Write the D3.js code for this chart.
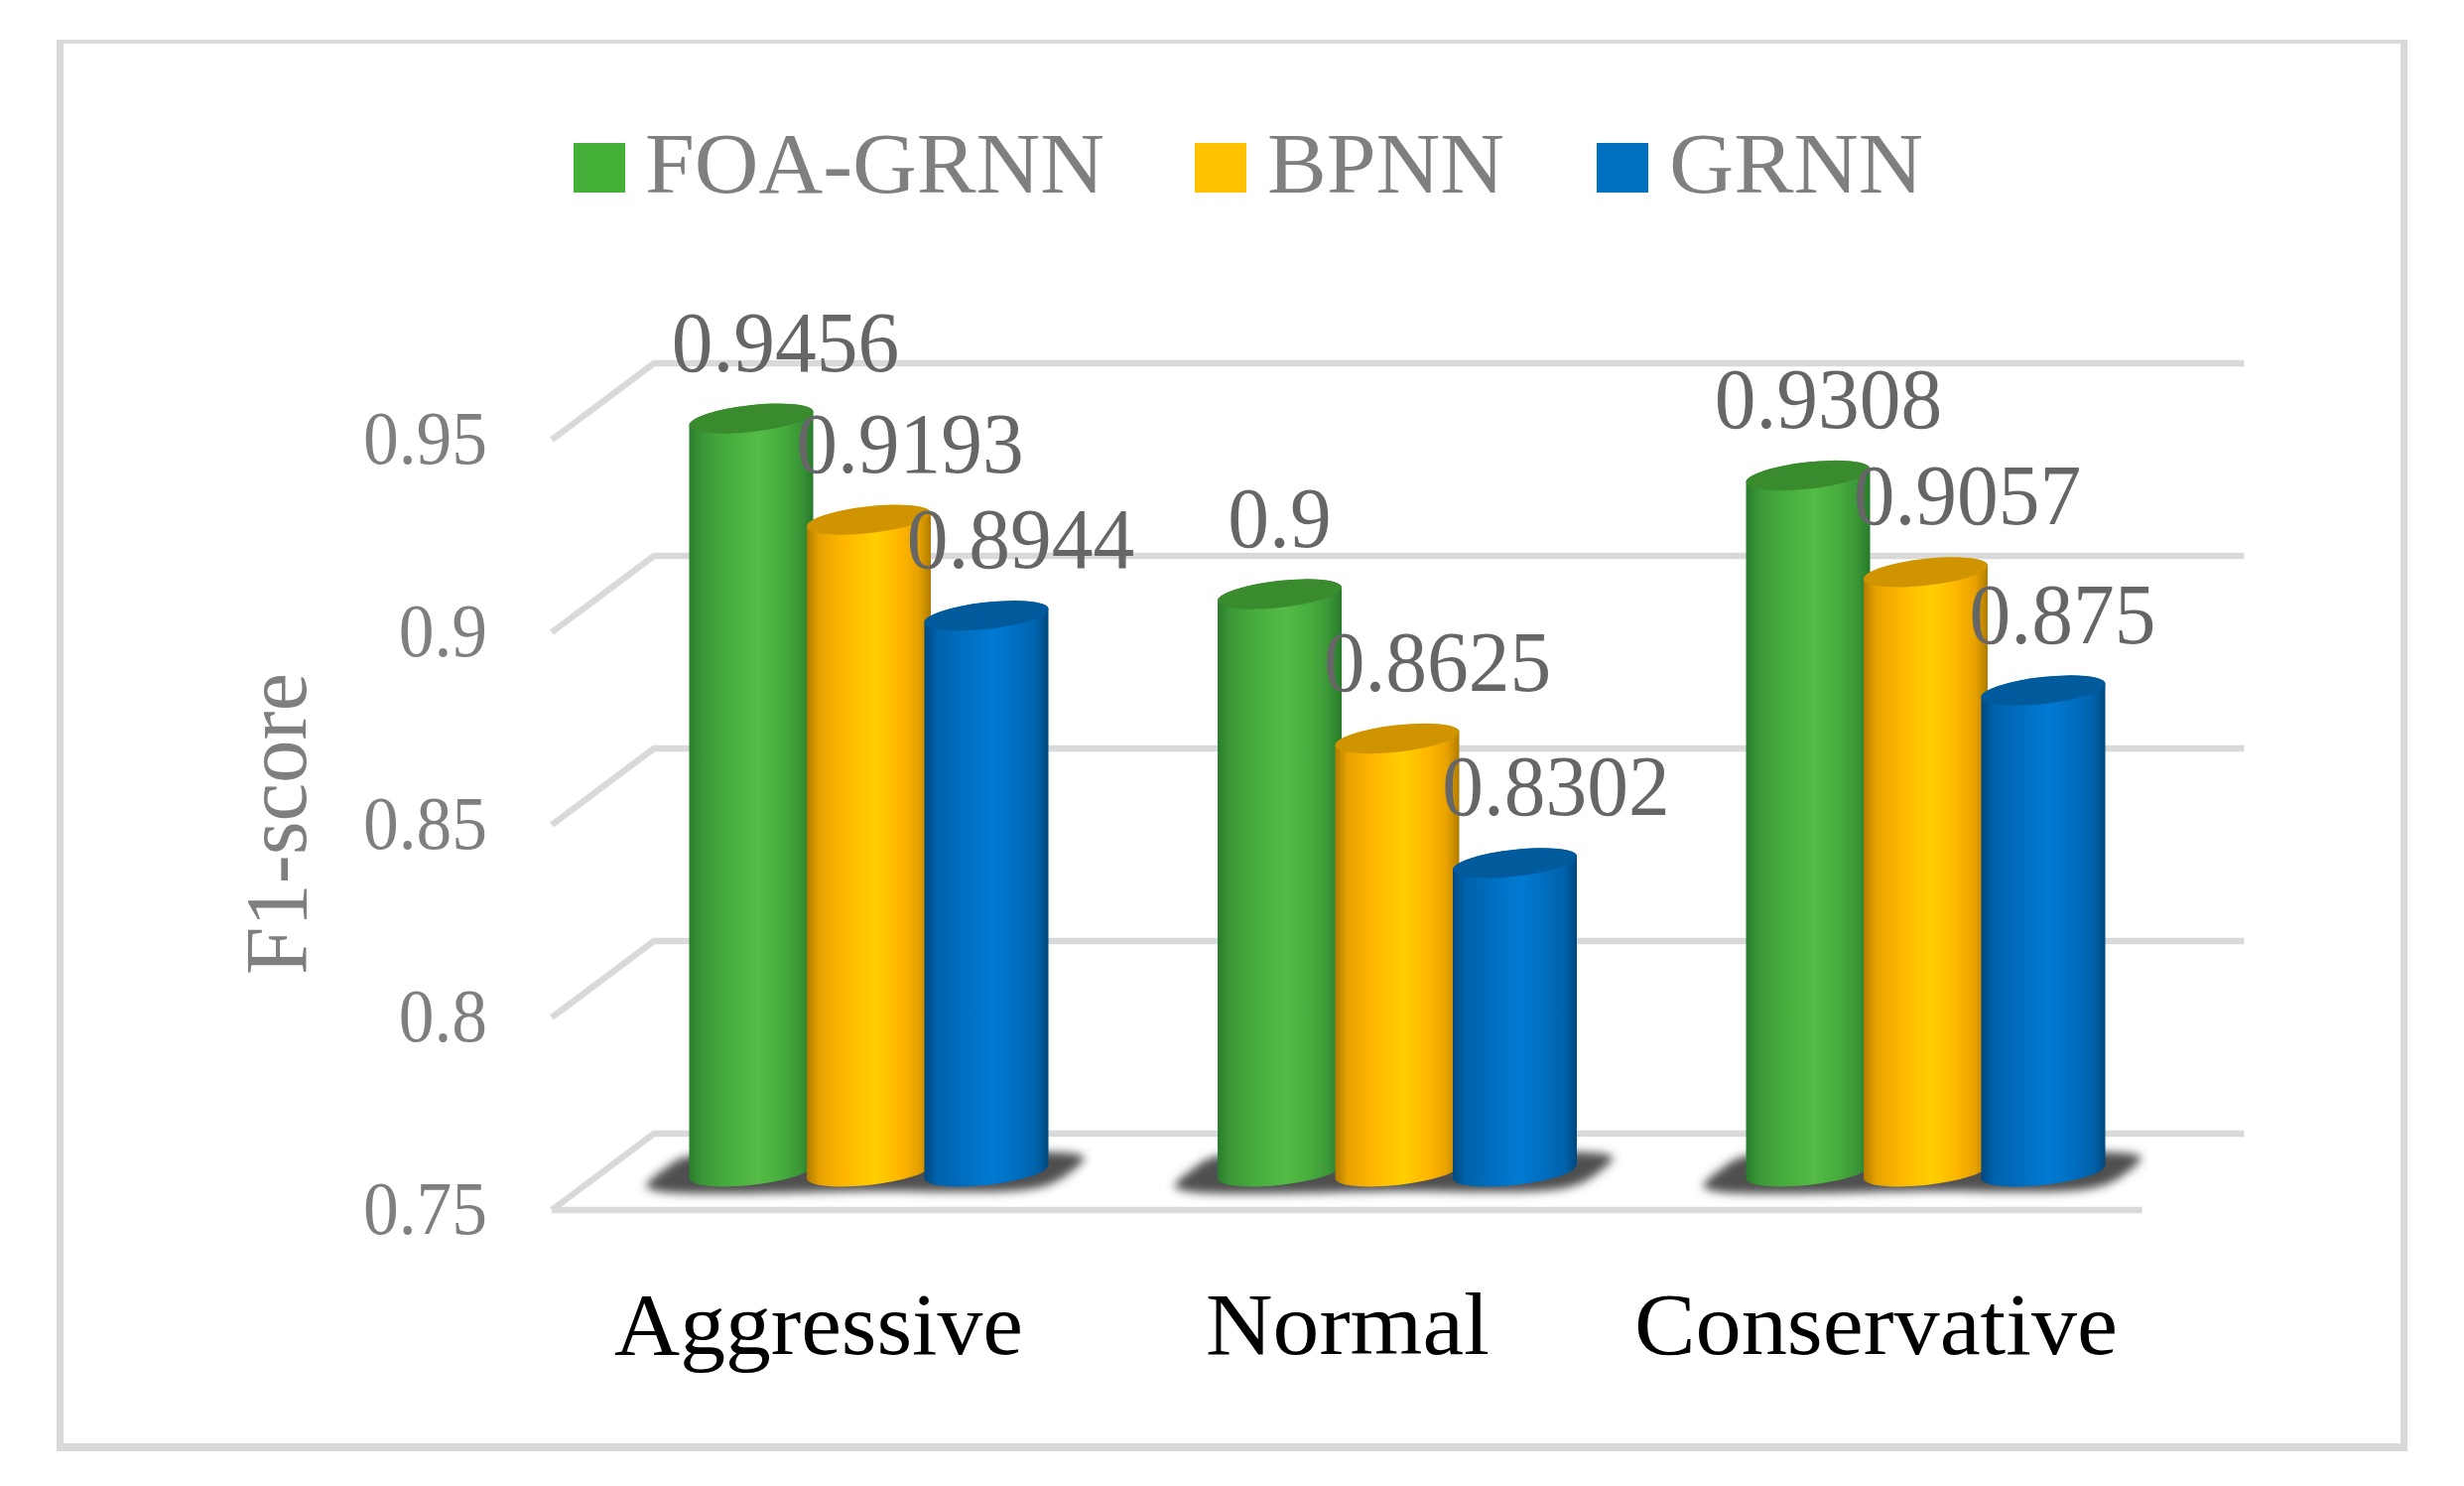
<!DOCTYPE html>
<html><head><meta charset="utf-8">
<script src="https://cdn.jsdelivr.net/npm/d3@7"></script>
<style>html,body{margin:0;padding:0;background:#fff}svg{display:block}text{font-family:"Liberation Serif",serif}</style>
</head><body><div id="chart"></div>
<script>
const categories = ["Aggressive","Normal","Conservative"];
const seriesNames = ["FOA-GRNN","BPNN","GRNN"];
const foaGrnn = [0.9456,0.9,0.9308];
const bpnn = [0.9193,0.8625,0.9057];
const grnn = [0.8944,0.8302,0.875];
const tickValues = [0.75,0.8,0.85,0.9,0.95];
const axisTitle = "F1-score";

const seriesValues = [foaGrnn,bpnn,grnn];
const W=2483,H=1497;
const svg=d3.select("#chart").append("svg").attr("width",W).attr("height",H).attr("viewBox",[0,0,W,H]);
svg.append("rect").attr("width",W).attr("height",H).attr("fill","#fff");
const defs=svg.append("defs");
const ramps=[
 ["#2a7d2c","#3b9637","#46ad3d","#54bb46","#46ad3d","#3a9536","#277a2a"],
 ["#b07c00","#e8a200","#ffb600","#ffcf00","#ffb600","#e8a200","#b07c00"],
 ["#00487f","#0062ab","#006dbe","#007ad3","#006dbe","#0062ab","#00487f"]];
const offs=[0,.1,.3,.55,.75,.9,1];
ramps.forEach((r,i)=>{const g=defs.append("linearGradient").attr("id","g"+i);
 r.forEach((c,j)=>g.append("stop").attr("offset",offs[j]).attr("stop-color",c));});
defs.append("filter").attr("id","blur").attr("x","-10%").attr("y","-30%").attr("width","120%").attr("height","160%")
 .append("feGaussianBlur").attr("stdDeviation",5);
const capColors=["#3a8b2e","#d09400","#005a9b"];
const legendColors=["#45b038","#ffc000","#0070c0"];
const gridColor="#d9d9d9";

// frame
svg.append("path").attr("fill",gridColor).attr("fill-rule","evenodd")
 .attr("d","M57,40H2426V1462H57ZM64,44V1454H2419V44Z");

// scales
const y=d3.scaleLinear().domain([0.75,0.95]).range([1180.5,404.5]);
const depth={x:51.5,y:38.5};
const xMid=d3.scalePoint().domain(categories).range([875.5,1940.5]);
const xSeries=d3.scalePoint().domain(seriesNames).range([-118.5,118.5]);
const gridLeft=607.5, gridRight=2210;

// grid
const gl=svg.append("g").attr("fill","none").attr("stroke",gridColor).attr("stroke-width",6.5).attr("stroke-linecap","butt").attr("stroke-linejoin","miter");
const line=d3.line();
tickValues.forEach(v=>{
 gl.append("path").attr("d",line([[gridLeft-depth.x,y(v)+depth.y],[gridLeft+depth.x,y(v)-depth.y],[gridRight+depth.x,y(v)-depth.y]]));
});
gl.append("path").attr("d",line([[gridLeft-depth.x,y(0.75)+depth.y],[gridRight-depth.x,y(0.75)+depth.y]]));

// axis (drawn along the front plane)
const yFront=y.copy().range(y.range().map(d=>d+depth.y));
const ax=svg.append("g").attr("transform","translate(491,0)")
 .call(d3.axisLeft(yFront).tickValues(tickValues).tickSize(0).tickPadding(0).tickFormat(d=>String(d)));
ax.select(".domain").remove();
const emWidth=s=>s.replace(/\./g,"").length*0.5+(s.includes(".")?0.25:0);
ax.selectAll("text").attr("x",0).attr("dy",23).attr("fill","#7f7f7f").attr("font-size",77)
 .style("font-family",'"Liberation Serif",serif').attr("text-anchor","end")
 .attr("textLength",function(d){return emWidth(String(d))*71.5;}).attr("lengthAdjust","spacingAndGlyphs");

svg.append("text").attr("transform","translate(308,982) rotate(-90)").attr("font-size",88).attr("fill","#7f7f7f")
 .attr("textLength",304).attr("lengthAdjust","spacingAndGlyphs").text(axisTitle);

// shadows
const shadow=d3.line().curve(d3.curveCatmullRomClosed);
const shadowOutline=[[-224,1195],[-205,1177],[-183,1165],[0,1163],[205,1162],[217,1166],[203,1181],[173,1196],[0,1200],[-212,1200]];
categories.forEach(c=>{const x=xMid(c);
 svg.append("path").attr("fill","#4f4f4f").attr("filter","url(#blur)")
  .attr("d",shadow(shadowOutline.map(p=>[x+p[0],p[1]])));
});

// bars
const w=125, rx=62.9, ry=13.5, tilt=7, rot=-6.4;
const barBottom=y(0.75);
seriesNames.forEach((s,i)=>{
 const g=svg.append("g");
 categories.forEach((c,j)=>{
  const cx=xMid(c)+xSeries(s), x0=cx-w/2, x1=cx+w/2, t=y(seriesValues[i][j]), b=barBottom;
  g.append("path").attr("fill",`url(#g${i})`)
   .attr("d",`M${x0},${t+tilt}L${x0},${b+tilt}A${rx},${ry} ${rot} 0 0 ${x1},${b-tilt}L${x1},${t-tilt}A${rx},${ry} ${rot} 0 0 ${x0},${t+tilt}Z`);
  g.append("ellipse").attr("cx",cx).attr("cy",t).attr("rx",rx).attr("ry",ry)
   .attr("fill",capColors[i]).attr("transform",`rotate(${rot} ${cx} ${t})`);
 });
});

// data labels: manually placed in the source, nudged right of each bar top
const labelNudge=[[34.5,0,20.5],[41.5,40.5,42],[34.5,41.5,19.5]];
seriesNames.forEach((s,i)=>{
 categories.forEach((c,j)=>{
  const v=seriesValues[i][j], txt=String(v);
  svg.append("text").attr("x",xMid(c)+xSeries(s)+labelNudge[i][j]).attr("y",y(v)-48)
   .attr("text-anchor","middle").attr("font-size",86).attr("fill","#666")
   .attr("textLength",emWidth(txt)*83.5).attr("lengthAdjust","spacingAndGlyphs").text(txt);
 });
});

// category labels
const catWidths=[412,286,487], catCenters=[825,1358,1890.5];
categories.forEach((c,j)=>{
 svg.append("text").attr("x",catCenters[j]).attr("y",1364).attr("text-anchor","middle").attr("font-size",88).attr("fill","#000")
  .attr("textLength",catWidths[j]).attr("lengthAdjust","spacingAndGlyphs").text(c);
});

// legend
const legendX=[578,1204,1609], legendTextX=[650,1277,1682], legendTextW=[463,239,256];
seriesNames.forEach((s,i)=>{
 svg.append("rect").attr("x",legendX[i]).attr("y",144).attr("width",52).attr("height",50).attr("fill",legendColors[i]);
 svg.append("text").attr("x",legendTextX[i]).attr("y",194).attr("font-size",86).attr("fill","#7f7f7f")
  .attr("textLength",legendTextW[i]).attr("lengthAdjust","spacingAndGlyphs").text(s);
});
</script></body></html>
